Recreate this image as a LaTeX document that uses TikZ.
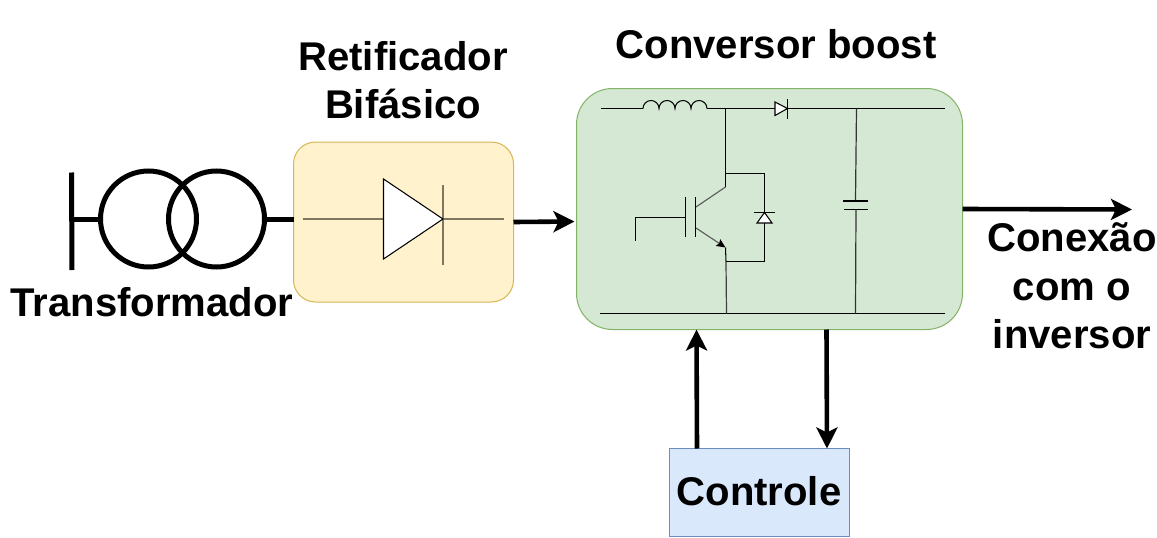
\documentclass[tikz,border=0pt]{standalone}
\usepackage{fontspec}
\setmainfont{Liberation Sans}
\usetikzlibrary{arrows.meta,calc}
\tikzset{
  x=1pt,y=-1pt,
  lbl/.style={anchor=base,inner sep=0pt,font=\fontsize{40.1}{48}\selectfont\bfseries},
  box/.style={draw,line width=1pt,inner sep=0pt,outer sep=0pt},
  thick line/.style={line width=5pt,black},
  flow/.style={line width=4.6pt,black,-{Stealth[length=21pt,width=21pt,inset=5pt]}},
  wire/.style={line width=1.05pt,black},
  softwire/.style={line width=1.5pt,draw=softgray},
}
\definecolor{softgray}{HTML}{7D7760}
\definecolor{yfill}{HTML}{FFF2CC}\definecolor{ydraw}{HTML}{D6B656}
\definecolor{gfill}{HTML}{D5E8D4}\definecolor{gdraw}{HTML}{82B366}
\definecolor{bfill}{HTML}{DAE8FC}\definecolor{bdraw}{HTML}{6C8EBF}
\begin{document}
\begin{tikzpicture}
\useasboundingbox (0,0) rectangle (1157,538);
% blocks
\node[box,fill=yfill,draw=ydraw,rounded corners=22pt,minimum width=220pt,minimum height=160pt] (ret) at (403.5,222) {};
\node[box,fill=gfill,draw=gdraw,rounded corners=36pt,minimum width=386pt,minimum height=241pt] (boost) at (769.5,209) {};
\node[box,fill=bfill,draw=bdraw,minimum width=180pt,minimum height=88pt] (ctrl) at (759.5,492.5) {};
% labels
\node[lbl] (tTrans) at (152,316.5) {Transformador};
\node[lbl] (tRet1) at (403,70.5) {Retificador};
\node[lbl] (tRet2) at (403,118.5) {Bifásico};
\node[lbl] (tConv) at (776,58) {Conversor boost};
\node[lbl] (tCon1) at (1072,251) {Conexão};
\node[lbl] (tCon2) at (1072,300) {com o};
\node[lbl] (tCon3) at (1072,348) {inversor};
\node[lbl] (tCtrl) at (759,505.5) {Controle};
% transformer
\node[circle,draw,line width=5pt,minimum size=96pt,inner sep=0pt,outer sep=0pt] (t1) at (148.5,219) {};
\node[circle,draw,line width=5pt,minimum size=96pt,inner sep=0pt,outer sep=0pt] (t2) at (216.5,219) {};
\coordinate (busA) at (71.5,172.5);
\coordinate (busB) at (72,270);
\coordinate (busM) at (72,219);
\draw[thick line] (busA) -- (busB);
\draw[thick line] (busM) -- (t1.west);
\draw[thick line] (t2.east) -- (ret.west |- t2.east);
% rectifier diode
\coordinate (dIn) at (303,219);
\coordinate (dOut) at (504,219);
\coordinate (dA) at (383.5,179);
\coordinate (dB) at (383.5,259);
\coordinate (dK) at (443,219);
\coordinate (dK1) at (443,185);
\coordinate (dK2) at (443,265);
\draw[softwire] (dIn) -- (dA |- dIn);
\draw[softwire] (dK) -- (dOut);
\draw[softwire] (dK1) -- (dK2);
\draw[wire,fill=white,line join=miter] (dA) -- (dK) -- (dB) -- cycle;
% flow arrows
\coordinate (ctrlUp) at (696.5,329.5);
\coordinate (ctrlUp0) at (697,448.5);
\coordinate (ctrlDn0) at (826.5,329.5);
\coordinate (ctrlDn) at (827,448.5);
\coordinate (outEnd) at (1132,209.5);
\coordinate (retTip) at (574.5,221.5);
\draw[flow] (ret.east) -- (retTip);
\draw[flow] (boost.east) -- (outEnd);
\draw[flow] (ctrlUp0) -- (ctrlUp);
\draw[flow] (ctrlDn0) -- (ctrlDn);
% boost: rails
\coordinate (topL) at (601,108.5);
\coordinate (indL) at (643,108.5);
\coordinate (indR) at (707,108.5);
\coordinate (swTop) at (725.5,108.5);
\coordinate (dbA) at (775,108.5);
\coordinate (dbK) at (787.5,108.5);
\coordinate (topR) at (944.5,108.5);
\coordinate (botL) at (600,313.5);
\coordinate (botR) at (944.5,313.5);
\draw[wire] (topL) -- (indL);
\draw[wire] (indL) arc[start angle=180,end angle=0,radius=8pt]
  arc[start angle=180,end angle=0,radius=8pt]
  arc[start angle=180,end angle=0,radius=8pt]
  arc[start angle=180,end angle=0,radius=8pt];
\draw[wire] (indR) -- (dbA);
\draw[wire] (dbK) -- (topR);
\draw[wire] (botL) -- (botR);
% series diode
\coordinate (dbT) at (775,102);
\coordinate (dbB) at (775,115.5);
\coordinate (dbK1) at (787.5,99);
\coordinate (dbK2) at (787.5,118.5);
\draw[wire,fill=white] (dbT) -- (dbK) -- (dbB) -- cycle;
\draw[wire] (dbK1) -- (dbK2);
% IGBT
\coordinate (cJ) at (725.5,173.5);
\coordinate (cE) at (725.5,187);
\coordinate (cP) at (696,207);
\coordinate (eP) at (696,228);
\coordinate (eE) at (725.5,247.5);
\coordinate (eBot) at (726.5,313.5);
\coordinate (fwR1) at (764.5,173.5);
\coordinate (fwK) at (764.5,212.5);
\coordinate (fwA) at (764.5,223);
\coordinate (fwR2) at (764.5,261.5);
\coordinate (fwL) at (726,261.5);
\coordinate (p1T) at (685.5,197);
\coordinate (p1B) at (685.5,237);
\coordinate (p2T) at (695.5,197);
\coordinate (p2B) at (695.5,237);
\coordinate (gMid) at (685.5,217.5);
\coordinate (gC) at (635.5,217.5);
\coordinate (gE) at (635.5,240.5);
\draw[wire] (swTop) -- (cE);
\draw[softwire,draw=black!65,line width=1.1pt] (cE) -- (cP);
\draw[softwire,draw=black!65,line width=1.1pt,-{Stealth[length=9pt,width=8pt,inset=1.5pt,black]}] (eP) -- (eE);
\draw[wire] (eE) -- (fwL);
\draw[softwire,draw=black!75,line width=1.2pt] (fwL) -- (eBot);
\draw[wire] (cJ) -- (fwR1) -- (fwK);
\draw[wire] (fwA) -- (fwR2) -- (fwL);
\draw[wire] (p1T) -- (p1B);
\draw[wire] (p2T) -- (p2B);
\draw[wire] (gE) -- (gC) -- (gMid);
% freewheel diode
\coordinate (fwT1) at (757,223);
\coordinate (fwT2) at (772,223);
\coordinate (fwB1) at (754,212.5);
\coordinate (fwB2) at (775,212.5);
\draw[wire,fill=white] (fwK) -- (fwT2) -- (fwT1) -- cycle;
\draw[wire] (fwB1) -- (fwB2);
% capacitor
\coordinate (capTop) at (856.5,108.5);
\coordinate (capU) at (855.5,201);
\coordinate (capD) at (856,209.5);
\coordinate (capBot) at (855.5,313.5);
\coordinate (cU1) at (843,201);
\coordinate (cU2) at (868,201);
\coordinate (cD1) at (844,209.5);
\coordinate (cD2) at (868,209.5);
\draw[softwire,draw=black!80,line width=1.2pt] (capTop) -- (capU);
\draw[softwire,draw=black!80,line width=1.2pt] (capD) -- (capBot);
\draw[wire] (cU1) -- (cU2);
\draw[wire] (cD1) -- (cD2);
\end{tikzpicture}
\end{document}
